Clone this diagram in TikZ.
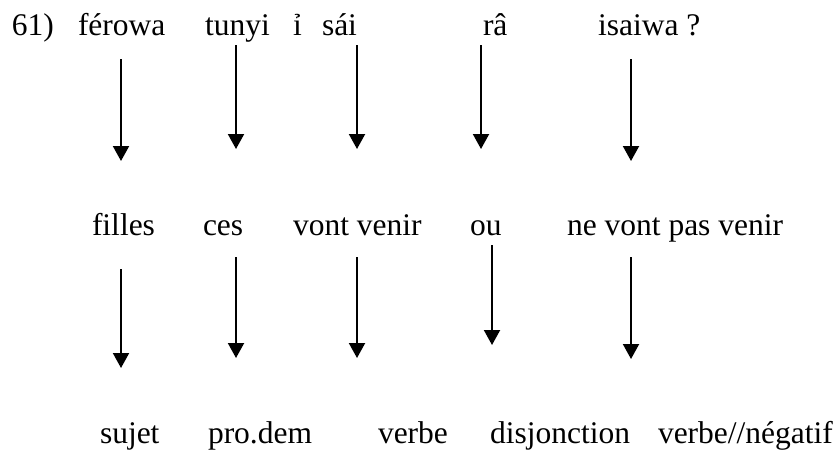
\documentclass[tikz,border=0pt]{standalone}
\usepackage{fontspec}
\setmainfont{Liberation Serif}
\usetikzlibrary{arrows.meta}
\begin{document}
\begin{tikzpicture}[x=1pt,y=-1pt,
  word/.style={anchor=base west,inner sep=0pt,outer sep=0pt,font=\fontsize{31.5}{36}\selectfont},
  arr/.style={line width=2pt,-{Triangle[width=16pt,length=15pt]}}]
\useasboundingbox (0,0) rectangle (837,451);
% row 1
\node[word] (n61) at (12,35) {61)};
\node[word] (t1) at (78,35) {férowa};
\node[word] (t2) at (205,35) {tunyi};
\node[word] (t3a) at (293,35) {ỉ};
\node[word] (t3) at (322,35) {sái};
\node[word] (t4) at (483,35) {râ};
\node[word] (t5) at (598,35) {isaiwa ?};
% row 2
\node[word] (m1) at (92,235) {filles};
\node[word] (m2) at (203,235) {ces};
\node[word] (m3) at (293,235) {vont venir};
\node[word] (m4) at (470,235) {ou};
\node[word] (m5) at (567,235) {ne vont pas venir};
% row 3
\node[word] (b1) at (100,443) {sujet};
\node[word] (b2) at (208,443) {pro.dem};
\node[word] (b3) at (378,443) {verbe};
\node[word] (b4) at (490,443) {disjonction};
\node[word] (b5) at (658,443) {verbe//négatif};
% arrow end points, upper
\coordinate (u1s) at (121,59);  \coordinate (u1e) at (121,161);
\coordinate (u2s) at (236,45);  \coordinate (u2e) at (236,149);
\coordinate (u3s) at (357,45);  \coordinate (u3e) at (357,149);
\coordinate (u4s) at (481,45);  \coordinate (u4e) at (481,149);
\coordinate (u5s) at (631,59);  \coordinate (u5e) at (631,161);
% lower
\coordinate (l1s) at (121,269); \coordinate (l1e) at (121,368);
\coordinate (l2s) at (236,257); \coordinate (l2e) at (236,358);
\coordinate (l3s) at (357,257); \coordinate (l3e) at (357,358);
\coordinate (l4s) at (492,245); \coordinate (l4e) at (492,345);
\coordinate (l5s) at (631,257); \coordinate (l5e) at (631,359);
\foreach \i in {1,...,5}{
  \draw[arr] (u\i s) -- (u\i e);
  \draw[arr] (l\i s) -- (l\i e);
}
\end{tikzpicture}
\end{document}
